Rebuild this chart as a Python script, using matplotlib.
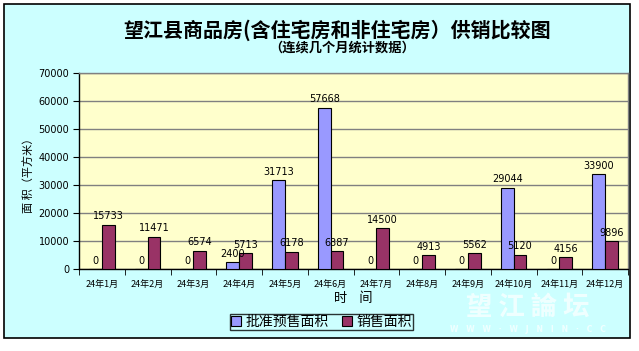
import matplotlib
matplotlib.use("Agg")
import matplotlib.pyplot as plt
from matplotlib.patches import Rectangle
import numpy as np

plt.rcParams['font.family'] = ['Noto Sans CJK SC', 'DejaVu Sans']

months = ["24年1月", "24年2月", "24年3月", "24年4月", "24年5月", "24年6月",
          "24年7月", "24年8月", "24年9月", "24年10月", "24年11月", "24年12月"]
approved = [0, 0, 0, 2400, 31713, 57668, 0, 0, 0, 29044, 0, 33900]
sold = [15733, 11471, 6574, 5713, 6178, 6387, 14500, 4913, 5562, 5120, 4156, 9896]
series_names = ["批准预售面积", "销售面积"]
yticks = [0, 10000, 20000, 30000, 40000, 50000, 60000, 70000]

W, H = 639, 351
fig = plt.figure(figsize=(W / 100, H / 100), dpi=100)
fig.patch.set_facecolor("white")

# outer chart border / background
fig.patches.append(Rectangle((4 / W, 1 - 338 / H), (630 - 4) / W, (338 - 4) / H,
                             transform=fig.transFigure, facecolor="#CCFFFF",
                             edgecolor="black", linewidth=1.2, zorder=-10))

# watermark (behind the plot)
fig.text(528 / W, 1 - 307 / H, "望 江 論 坛", ha="center", va="center", fontsize=19,
         fontweight="bold", color="#F4FFFF", alpha=0.9, zorder=-5)
fig.text(528 / W, 1 - 330 / H, "W   W   W   ·   W   J   N   I   N   ·   C   C",
         ha="center", va="center", fontsize=5.5, fontweight="bold", color="#F4FFFF",
         alpha=0.9, zorder=-5, family="DejaVu Sans")

ax = fig.add_axes([79 / W, 1 - 269 / H, (628 - 79) / W, (269 - 73) / H])
ax.set_facecolor("#FFFFCC")
for s in ax.spines.values():
    s.set_color("#808080")
    s.set_linewidth(1)
ax.spines['left'].set_color("black")
ax.spines['bottom'].set_color("black")

x = np.arange(len(months))
bw = 0.28
b1 = ax.bar(x - bw / 2, approved, bw, color="#9999FF", edgecolor="black", linewidth=0.8, zorder=3)
b2 = ax.bar(x + bw / 2, sold, bw, color="#993366", edgecolor="black", linewidth=0.8, zorder=3)
for bars in (b1, b2):
    for r in bars:
        h = r.get_height()
        ax.annotate(f"{int(h)}", (r.get_x() + r.get_width() / 2, h), xytext=(0, 2.5),
                    textcoords="offset points", ha="center", va="bottom",
                    fontsize=7, family="DejaVu Sans", zorder=4)

ax.set_ylim(0, 70000)
ax.set_xlim(-0.5, len(months) - 0.5)
ax.set_yticks(yticks)
ax.set_yticklabels([str(v) for v in yticks], fontsize=7, family="DejaVu Sans")
ax.yaxis.grid(True, color="#808080", linewidth=1, zorder=1)
ax.set_axisbelow(True)
ax.set_xticks(x)
ax.set_xticklabels(months, fontsize=6.5)
ax.tick_params(axis='x', length=0, pad=8)
ax.set_xticks(np.arange(-0.5, len(months), 1), minor=True)
ax.tick_params(axis='x', which='minor', length=4, direction='out')
ax.tick_params(axis='y', length=4, direction='out', pad=3)

fig.text(28 / W, 1 - 173 / H, "面 积（平方米）", rotation=90, ha="center", va="center",
         fontsize=8)
ax.set_xlabel("时    间", fontsize=9.5, labelpad=2)

leg = fig.legend([b1, b2], series_names, loc="center", bbox_to_anchor=(321.5 / W, 1 - 322 / H),
                 ncol=2, fontsize=10, frameon=True, fancybox=False, edgecolor="black",
                 handlelength=0.75, handleheight=0.75, handletextpad=0.35, columnspacing=0.9,
                 borderpad=0.05, borderaxespad=0)
leg.get_frame().set_facecolor("#CCFFFF")
leg.get_frame().set_linewidth(1)

fig.text(337 / W, 1 - 30 / H, "望江县商品房(含住宅房和非住宅房）供销比较图",
         ha="center", va="center", fontsize=14.4, fontweight="bold")
fig.text(342 / W, 1 - 47.5 / H, "（连续几个月统计数据）", ha="center", va="center",
         fontsize=9.5, fontweight="bold")

fig.savefig("out.png", dpi=100)
